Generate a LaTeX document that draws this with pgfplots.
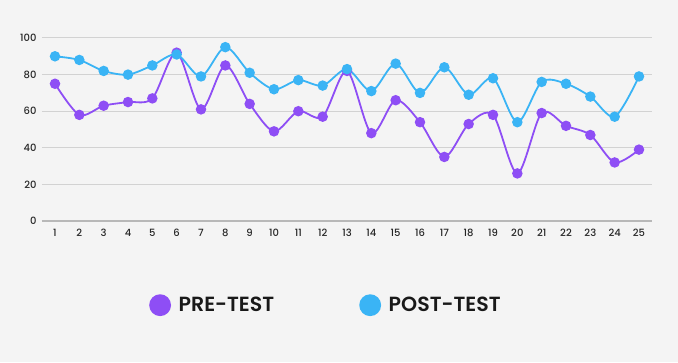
\documentclass[border=0pt]{standalone}
\usepackage{fontspec}
\setmainfont{Poppins Medium}
\newfontfamily\legfont{Poppins SemiBold}
\usepackage{pgfplots}
\pgfplotsset{compat=1.18}
\definecolor{bgcol}{HTML}{F4F4F4}
\definecolor{pre}{HTML}{8E4EF5}
\definecolor{post}{HTML}{3AB4F5}
\definecolor{gridc}{HTML}{D2D2D2}
\definecolor{axc}{HTML}{B8B8B8}
\begin{document}
\begin{tikzpicture}
\fill[bgcol] (0,0) rectangle (678pt,362pt);
\begin{axis}[
  at={(42pt,141pt)}, anchor=south west,
  scale only axis, width=610pt, height=183pt,
  xmin=0.466, xmax=25.534, ymin=0, ymax=100,
  xtick={1,...,25}, ytick={0,20,...,100},
  axis line style={draw=none},
  tick style={draw=none},
  ymajorgrids, grid style={gridc, line width=1pt},
  extra y ticks={0}, extra y tick labels={},
  extra y tick style={grid style={axc, line width=1.4pt}},
  /pgf/number format/assume math mode=true,
  ticklabel style={font=\fontsize{10}{12}\selectfont, text=black!85},
  yticklabel style={xshift=-2pt},
  xticklabel style={yshift=-3pt, text height=1.6ex, text depth=0.2ex},
  clip=false,
  legend columns=2,
  legend style={at={(0.172,-0.46)}, anchor=west, draw=none, fill=none,
    font=\legfont\fontsize{20.5}{24}\selectfont, text=black!90,
    /tikz/every even column/.append style={column sep=84pt}},
  legend image code/.code={\draw[#1, only marks, mark=*, mark size=10pt, mark options={draw=none}] plot coordinates {(0cm,0cm)}; \path (0.55cm,0cm);},
]
\addplot[pre, line width=1.8pt, smooth, tension=0.5, mark=*, mark size=4.3pt, mark options={draw=none, fill=pre}] coordinates {
(1,75) (2,58) (3,63) (4,65) (5,67) (6,92) (7,61) (8,85) (9,64) (10,49)
(11,60) (12,57) (13,82) (14,48) (15,66) (16,54) (17,35) (18,53) (19,58) (20,26)
(21,59) (22,52) (23,47) (24,32) (25,39)};
\addlegendentry{PRE-TEST}
\addplot[post, line width=1.8pt, smooth, tension=0.5, mark=*, mark size=4.3pt, mark options={draw=none, fill=post}] coordinates {
(1,90) (2,88) (3,82) (4,80) (5,85) (6,91) (7,79) (8,95) (9,81) (10,72)
(11,77) (12,74) (13,83) (14,71) (15,86) (16,70) (17,84) (18,69) (19,78) (20,54)
(21,76) (22,75) (23,68) (24,57) (25,79)};
\addlegendentry{POST-TEST}
\end{axis}
\end{tikzpicture}
\end{document}
